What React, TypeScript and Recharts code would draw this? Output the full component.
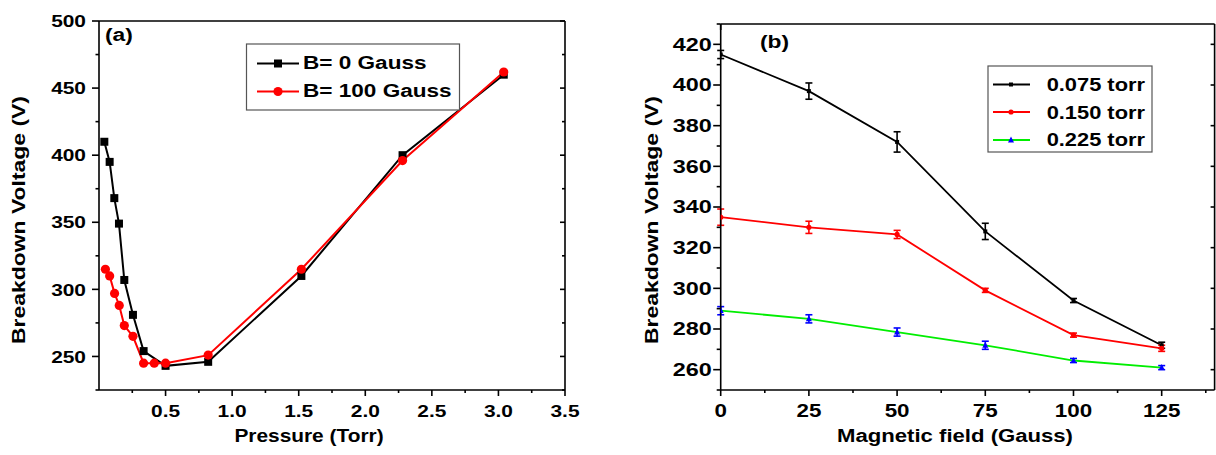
import React from 'react';
import { LineChart, Line, XAxis, YAxis, ErrorBar } from 'recharts';

// ---------- Panel (a): breakdown voltage vs pressure ----------
const pressureB0 = [0.04, 0.08, 0.115, 0.15, 0.19, 0.255, 0.335, 0.5, 0.82, 1.52, 2.28, 3.04];
const voltageB0 = [410, 395, 368, 349, 307, 281, 254, 243, 246, 310, 400, 460];
const pressureB100 = [0.048, 0.08, 0.117, 0.152, 0.19, 0.255, 0.335, 0.415, 0.5, 0.82, 1.52, 2.28, 3.04];
const voltageB100 = [315, 310, 297, 288, 273, 265, 245, 245, 245, 251, 315, 396, 462];
const seriesANames = ['B= 0 Gauss', 'B= 100 Gauss'];
const pressureMajor = [0.5, 1.0, 1.5, 2.0, 2.5, 3.0, 3.5];
const pressureMinor = [0.25, 0.75, 1.25, 1.75, 2.25, 2.75, 3.25];
const voltageAMajor = [250, 300, 350, 400, 450, 500];
const voltageAMinor = [225, 275, 325, 375, 425, 475];

// ---------- Panel (b): breakdown voltage vs magnetic field ----------
const fieldGauss = [0, 25, 50, 75, 100, 125];
const v075 = [415, 397, 372, 328, 294, 272];
const e075 = [2, 4, 5, 4, 1, 1.5];
const v150 = [335, 330, 326.5, 299, 277, 270.5];
const e150 = [4, 3, 2, 1, 1, 1.5];
const v225 = [289, 285, 278.5, 272, 264.5, 261];
const e225 = [2, 2, 2, 2, 1, 1];
const seriesBNames = ['0.075 torr', '0.150 torr', '0.225 torr'];
const fieldMajor = [0, 25, 50, 75, 100, 125];
const fieldMinor = [12.5, 37.5, 62.5, 87.5, 112.5, 137.5];
const voltageBMajor = [260, 280, 300, 320, 340, 360, 380, 400, 420];
const voltageBMinor = [250, 270, 290, 310, 330, 350, 370, 390, 410, 430];

const dataA0 = pressureB0.map((p, i) => ({ p, v: voltageB0[i] }));
const dataA100 = pressureB100.map((p, i) => ({ p, v: voltageB100[i] }));
const dataB = fieldGauss.map((b, i) => ({
  b,
  v1: v075[i], e1: e075[i],
  v2: v150[i], e2: e150[i],
  v3: v225[i], e3: e225[i],
}));

const FONT = '"Liberation Sans", Arial, Helvetica, sans-serif';

function T(props: { x: number; y: number; children: any; size?: number; sx?: number; anchor?: string; rotate?: number; fill?: string }) {
  const { x, y, children, size = 17, sx = 1.22, anchor = 'middle', rotate = 0, fill = '#000' } = props;
  const tr = rotate
    ? `translate(${x},${y}) rotate(${rotate}) scale(${sx},1)`
    : `translate(${x},${y}) scale(${sx},1)`;
  return (
    <text transform={tr} textAnchor={anchor as any} fontFamily={FONT} fontWeight="bold" fontSize={size} fill={fill}>
      {children}
    </text>
  );
}

type Side = 'bottom' | 'top' | 'left' | 'right';
function makeTick(side: Side, majors: number[], opts: { label?: boolean; majorLen?: number; minorLen?: number; size?: number; sx?: number; gap?: number; fmt?: (v: number) => string }) {
  const { label = false, majorLen = 7, minorLen = 4, size = 17, sx = 1.22, gap = 27, fmt = (v: number) => String(v) } = opts;
  return (props: any) => {
    const { x, y, payload, index } = props;
    const v = payload.value;
    const isMajor = majors.some((m) => Math.abs(m - v) < 1e-9);
    const len = isMajor ? majorLen : minorLen;
    let l: number[];
    if (side === 'bottom' || side === 'top') l = [x, y, x, y + len];
    else l = [x - len, y, x, y];
    return (
      <g key={`t-${side}-${index}`}>
        <line x1={l[0]} y1={l[1]} x2={l[2]} y2={l[3]} stroke="#000" strokeWidth={1.6} />
        {label && isMajor && side === 'bottom' && <T x={x} y={y + gap} size={size} sx={sx}>{fmt(v)}</T>}
        {label && isMajor && side === 'left' && <T x={x - gap} y={y + 6.2} size={size} sx={sx} anchor="end">{fmt(v)}</T>}
      </g>
    );
  };
}

const squareDot = (s: number, color: string) => (props: any) => (
  <rect key={`sq-${props.index}`} x={props.cx - s / 2} y={props.cy - s / 2} width={s} height={s} fill={color} stroke="none" />
);
const circleDot = (r: number, color: string) => (props: any) => (
  <circle key={`ci-${props.index}`} cx={props.cx} cy={props.cy} r={r} fill={color} stroke="none" />
);
const triDot = (s: number, color: string) => (props: any) => (
  <path key={`tr-${props.index}`} d={`M${props.cx},${props.cy - s * 0.6} L${props.cx + s / 2},${props.cy + s * 0.4} L${props.cx - s / 2},${props.cy + s * 0.4} Z`} fill={color} />
);

const axisLine = { stroke: '#000', strokeWidth: 1.6 };

export default function App() {
  return (
    <div style={{ position: 'absolute', left: 0, top: 0, width: 1216, height: 455, background: '#fff', overflow: 'hidden' }}>
      <div style={{ position: 'absolute', left: 0, top: 0 }}>
        <LineChart width={600} height={455} margin={{ top: 11, right: 25, bottom: 35, left: 39 }}>
          <XAxis xAxisId="x" dataKey="p" type="number" domain={[0, 3.5]} allowDataOverflow
            ticks={[...pressureMajor, ...pressureMinor].sort((a, b) => a - b)} interval={0}
            height={30} tickSize={0} tickMargin={0} axisLine={axisLine} tickLine={false}
            tick={makeTick('bottom', pressureMajor, { label: true, majorLen: 6, minorLen: 3, size: 17, sx: 1.23, gap: 27, fmt: (v) => v.toFixed(1) })} />
          <XAxis xAxisId="xt" orientation="top" type="number" domain={[0, 3.5]} allowDataOverflow
            ticks={[...pressureMajor, ...pressureMinor].sort((a, b) => a - b)} interval={0}
            height={10} tickSize={0} tickMargin={0} axisLine={axisLine} tickLine={false}
            tick={makeTick('top', pressureMajor, { majorLen: 5, minorLen: 3 })} />
          <YAxis yAxisId="y" type="number" domain={[225, 500]} allowDataOverflow
            ticks={[...voltageAMajor, ...voltageAMinor].sort((a, b) => a - b)} interval={0}
            width={60} tickSize={0} tickMargin={0} axisLine={axisLine} tickLine={false}
            tick={makeTick('left', voltageAMajor, { label: true, majorLen: 7, minorLen: 3.5, size: 17, sx: 1.23, gap: 13 })} />
          <YAxis yAxisId="yr" orientation="right" type="number" domain={[225, 500]} allowDataOverflow
            ticks={[...voltageAMajor, ...voltageAMinor].sort((a, b) => a - b)} interval={0}
            width={10} tickSize={0} tickMargin={0} axisLine={axisLine} tickLine={false}
            tick={makeTick('right', voltageAMajor, { majorLen: 5, minorLen: 3 })} />
          <Line xAxisId="x" yAxisId="y" data={dataA0} dataKey="v" name={seriesANames[0]} stroke="#000" strokeWidth={2}
            dot={squareDot(8, '#000')} activeDot={false} isAnimationActive={false} />
          <Line xAxisId="x" yAxisId="y" data={dataA100} dataKey="v" name={seriesANames[1]} stroke="#ff0000" strokeWidth={2}
            dot={circleDot(4.6, '#ff0000')} activeDot={false} isAnimationActive={false} />
        </LineChart>
      </div>

      <div style={{ position: 'absolute', left: 600, top: 0 }}>
        <LineChart width={616} height={455} data={dataB} margin={{ top: 14, right: 0.4, bottom: 35, left: 60.7 }}>
          <XAxis xAxisId="x" dataKey="b" type="number" domain={[0, 140]} allowDataOverflow
            ticks={[...fieldMajor, ...fieldMinor].sort((a, b) => a - b)} interval={0}
            height={30} tickSize={0} tickMargin={0} axisLine={axisLine} tickLine={false}
            tick={makeTick('bottom', fieldMajor, { label: true, majorLen: 6, minorLen: 3, size: 17.5, sx: 1.28, gap: 27 })} />
          <XAxis xAxisId="xt" orientation="top" type="number" domain={[0, 140]} allowDataOverflow
            ticks={[...fieldMajor, ...fieldMinor].sort((a, b) => a - b)} interval={0}
            height={10} tickSize={0} tickMargin={0} axisLine={axisLine} tickLine={false}
            tick={makeTick('top', fieldMajor, { majorLen: 6, minorLen: 6 })} />
          <YAxis yAxisId="y" type="number" domain={[250, 430]} allowDataOverflow
            ticks={[...voltageBMajor, ...voltageBMinor].sort((a, b) => a - b)} interval={0}
            width={60} tickSize={0} tickMargin={0} axisLine={axisLine} tickLine={false}
            tick={makeTick('left', voltageBMajor, { label: true, majorLen: 7.5, minorLen: 4, size: 18, sx: 1.3, gap: 9 })} />
          <YAxis yAxisId="yr" orientation="right" type="number" domain={[250, 430]} allowDataOverflow
            ticks={voltageBMajor} interval={0}
            width={1} tickSize={0} tickMargin={0} axisLine={axisLine} tickLine={false}
            tick={makeTick('right', voltageBMajor, { majorLen: 4, minorLen: 4 })} />
          <Line xAxisId="x" yAxisId="y" dataKey="v1" name={seriesBNames[0]} stroke="#000" strokeWidth={1.8}
            dot={squareDot(4, '#000')} activeDot={false} isAnimationActive={false}>
            <ErrorBar dataKey="e1" width={3.5} stroke="#000" strokeWidth={1.6} direction="y" />
          </Line>
          <Line xAxisId="x" yAxisId="y" dataKey="v2" name={seriesBNames[1]} stroke="#ff0000" strokeWidth={1.8}
            dot={circleDot(2.6, '#ff0000')} activeDot={false} isAnimationActive={false}>
            <ErrorBar dataKey="e2" width={3.5} stroke="#ff0000" strokeWidth={1.6} direction="y" />
          </Line>
          <Line xAxisId="x" yAxisId="y" dataKey="v3" name={seriesBNames[2]} stroke="#00ee00" strokeWidth={1.8}
            dot={triDot(6, '#0000ff')} activeDot={false} isAnimationActive={false}>
            <ErrorBar dataKey="e3" width={3.5} stroke="#0000ff" strokeWidth={1.6} direction="y" />
          </Line>
        </LineChart>
      </div>

      <svg width={1216} height={455} style={{ position: 'absolute', left: 0, top: 0, pointerEvents: 'none' }}>
        {/* panel labels */}
        <T x={105} y={41} size={19} sx={1.2} anchor="start">(a)</T>
        <T x={760} y={48} size={19} sx={1.2} anchor="start">(b)</T>
        {/* axis titles */}
        <T x={309} y={442} size={18} sx={1.16}>Pressure (Torr)</T>
        <T x={955} y={442} size={18} sx={1.23}>Magnetic field (Gauss)</T>
        <T x={25} y={220} size={18.5} sx={1.24} rotate={-90}>Breakdown Voltage (V)</T>
        <T x={658} y={220} size={18.5} sx={1.24} rotate={-90}>Breakdown Voltage (V)</T>

        {/* legend (a) */}
        <rect x={246.5} y={44} width={213} height={66} fill="#fff" stroke="#555" strokeWidth={1.2} />
        <line x1={257} y1={63.5} x2={299} y2={63.5} stroke="#000" strokeWidth={2} />
        <rect x={274} y={59.5} width={8} height={8} fill="#000" />
        <T x={303} y={68.5} size={18.5} sx={1.22} anchor="start">{seriesANames[0]}</T>
        <line x1={257} y1={91.5} x2={299} y2={91.5} stroke="#ff0000" strokeWidth={2} />
        <circle cx={278} cy={91.5} r={4.6} fill="#ff0000" />
        <T x={303} y={97} size={18.5} sx={1.22} anchor="start">{seriesANames[1]}</T>

        {/* legend (b) */}
        <rect x={988} y={66} width={164} height={86} fill="#fff" stroke="#555" strokeWidth={1.2} />
        <line x1={993} y1={84.5} x2={1030} y2={84.5} stroke="#000" strokeWidth={1.8} />
        <rect x={1009} y={82.5} width={4} height={4} fill="#000" />
        <T x={1145} y={90.5} size={19} sx={1.15} anchor="end">{seriesBNames[0]}</T>
        <line x1={993} y1={112} x2={1030} y2={112} stroke="#ff0000" strokeWidth={1.8} />
        <circle cx={1011} cy={112} r={2.6} fill="#ff0000" />
        <T x={1145} y={118.5} size={19} sx={1.15} anchor="end">{seriesBNames[1]}</T>
        <line x1={993} y1={140} x2={1030} y2={140} stroke="#00ee00" strokeWidth={1.8} />
        <path d="M1011,136.4 L1014,142.4 L1008,142.4 Z" fill="#0000ff" />
        <T x={1145} y={146} size={19} sx={1.15} anchor="end">{seriesBNames[2]}</T>
      </svg>
    </div>
  );
}
